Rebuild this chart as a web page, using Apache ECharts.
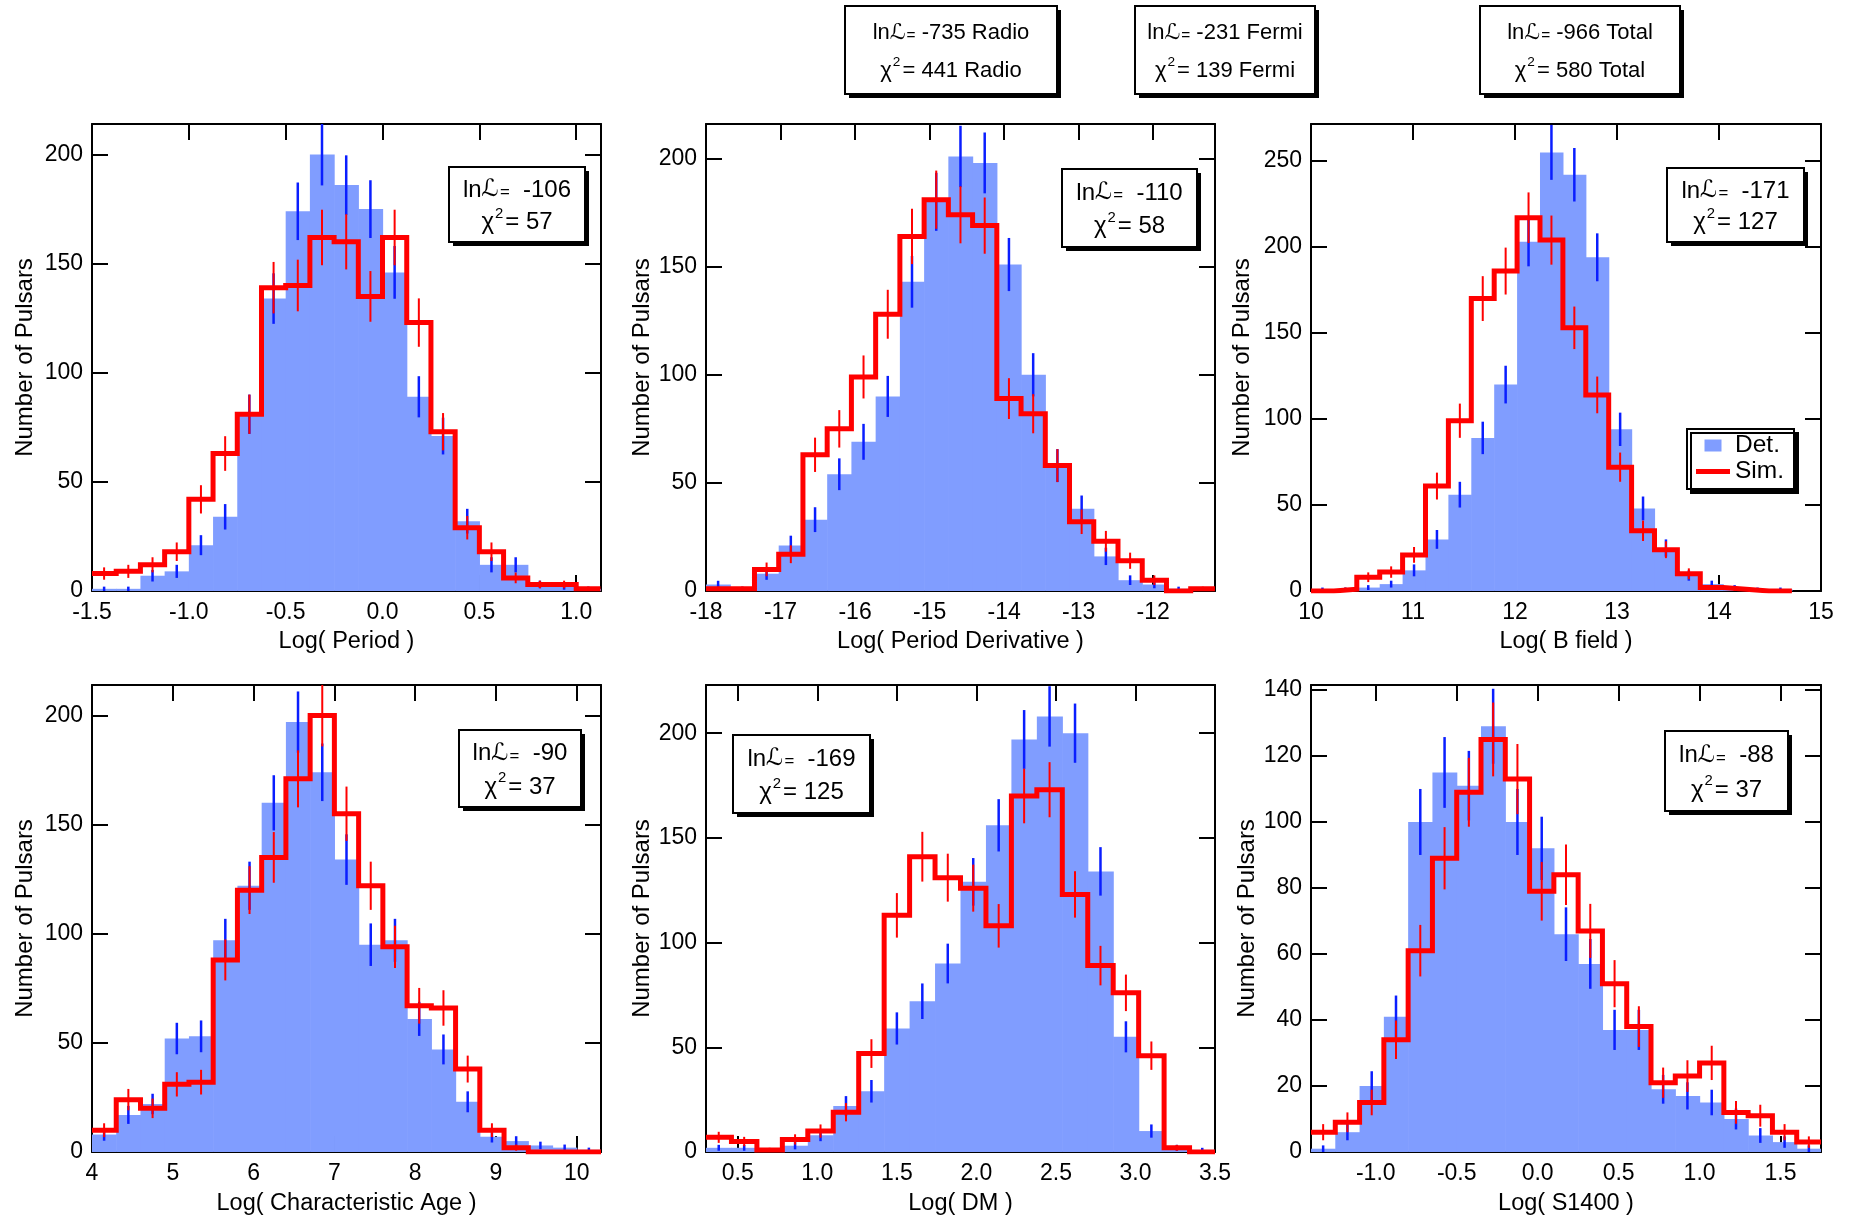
<!DOCTYPE html>
<html>
<head>
<meta charset="utf-8">
<script src="https://cdn.jsdelivr.net/npm/echarts@6/dist/echarts.min.js"></script>
<style>
  html, body { margin: 0; padding: 0; background: #fff; }
  #main { width: 1854px; height: 1220px; }
</style>
</head>
<body>
<div id="main"></div>
<script>
var chartDom = document.getElementById('main');
var myChart = echarts.init(chartDom);
var option;

// detected (blue) and simulated (red) counts per bin
var periodDet = [1, 1, 7, 9, 21, 34, 81, 134, 174, 200, 186, 175, 146, 89, 71, 32, 12, 12, 3, 2, 1];
var periodSim = [8, 9, 12, 18, 42, 63, 81, 139, 140, 162, 160, 135, 162, 123, 73, 29, 18, 6, 3, 3, 1];
var pdotDet = [3, 1, 8, 21, 33, 54, 69, 90, 143, 180, 201, 198, 151, 100, 58, 38, 16, 5, 3, 1, 0];
var pdotSim = [1, 1, 10, 17, 63, 75, 99, 128, 164, 181, 174, 169, 89, 82, 58, 32, 23, 14, 5, 0, 1];
var bDet = [1, 1, 2, 4, 12, 30, 56, 89, 120, 203, 255, 242, 194, 94, 48, 25, 9, 4, 2, 1, 1];
var bSim = [0, 1, 8, 11, 21, 61, 99, 170, 186, 217, 204, 153, 114, 72, 35, 24, 10, 2, 1, 0, 0];
var ageDet = [8, 17, 22, 52, 53, 97, 122, 160, 197, 174, 134, 95, 97, 61, 47, 23, 7, 5, 3, 2, 1];
var ageSim = [10, 24, 20, 31, 32, 88, 120, 135, 171, 200, 155, 122, 94, 67, 66, 38, 10, 2, 0, 0, 0];
var dmDet = [2, 2, 0, 3, 8, 22, 29, 59, 72, 90, 129, 156, 197, 208, 200, 134, 55, 10, 2, 1];
var dmSim = [7, 5, 1, 6, 10, 19, 47, 113, 141, 131, 126, 108, 170, 173, 123, 89, 76, 46, 2, 0];
var sDet = [1, 6, 20, 41, 100, 115, 111, 129, 100, 92, 66, 57, 37, 37, 19, 17, 15, 10, 5, 3, 1];
var sSim = [6, 9, 15, 34, 61, 89, 109, 125, 113, 79, 84, 67, 51, 38, 21, 23, 27, 12, 11, 6, 3];

var detCounts = [periodDet, pdotDet, bDet, ageDet, dmDet, sDet];
var simCounts = [periodSim, pdotSim, bSim, ageSim, dmSim, sSim];

// histogram binning
var binStart = [-1.5, -18, 10, 4, 0.3, -1.4];
var binWidth = [0.125, 0.3252, 0.2245, 0.3, 0.16, 0.15];

var xNames = ['Log( Period )', 'Log( Period Derivative )', 'Log( B field )',
    'Log( Characteristic Age )', 'Log( DM )', 'Log( S1400 )'];
var xMax = [1.128, -11.17, 15, 10.3, 3.5, 1.75];
var yMax = [214, 216, 271.5, 214, 223, 141.5];

var periodTicks = [-1.5, -1.0, -0.5, 0, 0.5, 1.0];
var pdotTicks = [-18, -17, -16, -15, -14, -13, -12];
var bTicks = [10, 11, 12, 13, 14, 15];
var ageTicks = [4, 5, 6, 7, 8, 9, 10];
var dmTicks = [0.5, 1.0, 1.5, 2.0, 2.5, 3.0, 3.5];
var sTicks = [-1.0, -0.5, 0, 0.5, 1.0, 1.5];
var xTicks = [periodTicks, pdotTicks, bTicks, ageTicks, dmTicks, sTicks];
var xDecimals = [1, 0, 0, 0, 1, 1];

var countTicks = [0, 50, 100, 150, 200];
var bCountTicks = [0, 50, 100, 150, 200, 250];
var sCountTicks = [0, 20, 40, 60, 80, 100, 120, 140];
var yTicks = [countTicks, countTicks, bCountTicks, countTicks, countTicks, sCountTicks];

// fit statistics
var lnL = [-106, -110, -171, -90, -169, -88];
var chi2 = [57, 58, 127, 37, 125, 37];
var totalNames = ['Radio', 'Fermi', 'Total'];
var totalLnL = [-735, -231, -966];
var totalChi2 = [441, 139, 580];

var FONT = 'Liberation Sans, Arial, Helvetica, sans-serif';
var BLUE = '#809dff';
var ERRBLUE = '#0a1eff';
var RED = '#ff0000';

var colLeft = [92, 706, 1311];
var colWidth = [509, 509, 510];
var rowTop = [124, 685];
var rowHeight = 467;
var yNameGap = [55, 51, 57, 55, 51, 48];

var grids = [], xAxes = [], yAxes = [], series = [];

function renderBar(params, api) {
    var p0 = api.coord([api.value(0), api.value(2)]);
    var p1 = api.coord([api.value(1), 0]);
    return {
        type: 'rect',
        shape: { x: p0[0], y: p0[1], width: p1[0] - p0[0] + 0.6, height: p1[1] - p0[1] },
        style: { fill: BLUE }
    };
}

function renderErr(color, width) {
    return function (params, api) {
        var x = api.value(0), v = api.value(1);
        if (!v) return null;
        var e = Math.sqrt(v);
        var a = api.coord([x, v - e]);
        var b = api.coord([x, v + e]);
        return {
            type: 'line',
            shape: { x1: a[0], y1: a[1], x2: b[0], y2: b[1] },
            style: { stroke: color, lineWidth: width }
        };
    };
}

for (var i = 0; i < 6; i++) {
    var col = i % 3, row = Math.floor(i / 3);
    grids.push({
        left: colLeft[col], top: rowTop[row],
        width: colWidth[col], height: rowHeight
    });

    var dec = xDecimals[i];
    var baseX = {
        gridIndex: i, type: 'value',
        min: binStart[i], max: xMax[i],
        splitLine: { show: false },
        axisLine: { show: true, onZero: false, lineStyle: { color: '#000', width: 2 } },
        axisTick: { show: true, inside: true, length: 16, lineStyle: { color: '#000', width: 2 },
            customValues: xTicks[i] },
        axisLabel: { customValues: xTicks[i] }
    };
    xAxes.push(echarts.util.merge({
        position: 'bottom',
        name: xNames[i], nameLocation: 'middle', nameGap: row === 0 ? 39 : 40,
        nameTextStyle: { fontFamily: FONT, fontSize: 23.5, color: '#000' },
        axisLabel: {
            show: true, margin: 10, fontFamily: FONT, fontSize: 23, color: '#000',
            formatter: (function (d) { return function (v) { return v.toFixed(d); }; })(dec)
        }
    }, echarts.util.clone(baseX), true));
    xAxes.push(echarts.util.merge({
        position: 'top',
        axisLabel: { show: false }
    }, echarts.util.clone(baseX), true));

    var baseY = {
        gridIndex: i, type: 'value', min: 0, max: yMax[i],
        splitLine: { show: false },
        axisLine: { show: true, onZero: false, lineStyle: { color: '#000', width: 2 } },
        axisTick: { show: true, inside: true, length: 16, lineStyle: { color: '#000', width: 2 },
            customValues: yTicks[i] },
        axisLabel: { customValues: yTicks[i] }
    };
    yAxes.push(echarts.util.merge({
        position: 'left',
        name: 'Number of Pulsars', nameLocation: 'middle', nameGap: yNameGap[i],
        nameTextStyle: { fontFamily: FONT, fontSize: 24, color: '#000' },
        axisLabel: { show: true, margin: 9, fontFamily: FONT, fontSize: 23, color: '#000' }
    }, echarts.util.clone(baseY), true));
    yAxes.push(echarts.util.merge({
        position: 'right',
        axisLabel: { show: false }
    }, echarts.util.clone(baseY), true));

    var det = detCounts[i], sim = simCounts[i];
    var barData = [], detErr = [], simStep = [], simErr = [];
    for (var k = 0; k < det.length; k++) {
        var x0 = binStart[i] + k * binWidth[i];
        var x1 = x0 + binWidth[i];
        var xc = x0 + binWidth[i] / 2;
        barData.push([x0, x1, det[k]]);
        detErr.push([xc, det[k]]);
        simStep.push([x0, sim[k]]);
        simErr.push([xc, sim[k]]);
    }
    simStep.push([binStart[i] + sim.length * binWidth[i], sim[sim.length - 1]]);

    var xi = 2 * i, yi = 2 * i;
    series.push({
        name: 'Det.', type: 'custom', xAxisIndex: xi, yAxisIndex: yi,
        renderItem: renderBar, data: barData, clip: true, z: 2,
        itemStyle: { color: BLUE },
        encode: { x: [0, 1], y: 2 }, silent: true
    });
    series.push({
        type: 'custom', xAxisIndex: xi, yAxisIndex: yi,
        renderItem: renderErr(ERRBLUE, 2.5), data: detErr, clip: true, z: 3,
        encode: { x: 0, y: 1 }, silent: true
    });
    series.push({
        name: 'Sim.', type: 'line', xAxisIndex: xi, yAxisIndex: yi,
        data: simStep, step: 'end', showSymbol: false, symbol: 'none',
        clip: true, z: 4, color: RED,
        lineStyle: { color: RED, width: 5, join: 'miter' },
        itemStyle: { color: RED }, silent: true, animation: false
    });
    series.push({
        type: 'custom', xAxisIndex: xi, yAxisIndex: yi,
        renderItem: renderErr(RED, 2), data: simErr, clip: true, z: 5,
        encode: { x: 0, y: 1 }, silent: true
    });
}

// stat boxes
function makeRich(size) {
    return {
        t: { fontFamily: FONT, fontSize: size, color: '#000', verticalAlign: 'middle' },
        L: { fontFamily: 'DejaVu Serif, DejaVu Sans', fontSize: size, color: '#000', verticalAlign: 'middle' },
        e: { fontFamily: FONT, fontSize: size * 0.7, color: '#000', verticalAlign: 'middle', padding: [5, 0, 0, 1] },
        s: { fontFamily: FONT, fontSize: size * 0.62, color: '#000', verticalAlign: 'middle',
             padding: [0, 2, Math.round(size * 0.75), 1] }
    };
}

function statBox(rect, line1, line2, size) {
    var w = rect[2], h = rect[3];
    var rich = makeRich(size);
    return {
        type: 'group', x: rect[0], y: rect[1], z: 100,
        children: [
            { type: 'rect', shape: { x: 4, y: 4, width: w, height: h }, style: { fill: '#000' } },
            { type: 'rect', shape: { x: 0, y: 0, width: w, height: h },
              style: { fill: '#fff', stroke: '#000', lineWidth: 2 } },
            { type: 'text', x: w / 2, y: h * 0.31,
              style: { text: line1, rich: rich, align: 'center', verticalAlign: 'middle' } },
            { type: 'text', x: w / 2, y: h * 0.74,
              style: { text: line2, rich: rich, align: 'center', verticalAlign: 'middle' } }
        ]
    };
}

var statRects = [[449, 167, 136, 75], [1062, 169, 135, 78], [1667, 168, 137, 74],
    [459, 730, 122, 77], [733, 735, 137, 78], [1665, 731, 123, 80]];
var headerRects = [[845, 6, 212, 88], [1135, 6, 180, 88], [1480, 6, 200, 88]];

var graphics = [];
for (var j = 0; j < 6; j++) {
    graphics.push(statBox(statRects[j],
        '{t|ln}{L|ℒ}{e|=}{t|  ' + lnL[j] + '}',
        '{t|χ}{s|2}{t|= ' + chi2[j] + '}', 24));
}
for (var m = 0; m < 3; m++) {
    graphics.push(statBox(headerRects[m],
        '{t|ln}{L|ℒ}{e|=}{t| ' + totalLnL[m] + ' ' + totalNames[m] + '}',
        '{t|χ}{s|2}{t|= ' + totalChi2[m] + ' ' + totalNames[m] + '}', 22));
}

option = {
    animation: false,
    backgroundColor: '#fff',
    grid: grids,
    xAxis: xAxes,
    yAxis: yAxes,
    legend: {
        orient: 'vertical',
        left: 1687, top: 429,
        padding: [4, 10, 5, 9],
        itemGap: 1,
        itemWidth: 34, itemHeight: 12,
        backgroundColor: '#fff',
        borderColor: '#000', borderWidth: 2,
        shadowColor: '#000', shadowBlur: 0, shadowOffsetX: 4, shadowOffsetY: 4,
        selectedMode: false,
        textStyle: { fontFamily: FONT, fontSize: 24.5, color: '#000' },
        data: [
            { name: 'Det.', icon: 'path://M0,0H17V12H0Z', itemStyle: { color: BLUE } },
            { name: 'Sim.', icon: 'path://M0,0H34V5H0Z', itemStyle: { color: RED } }
        ]
    },
    graphic: graphics,
    series: series
};

option && myChart.setOption(option);
</script>
</body>
</html>
